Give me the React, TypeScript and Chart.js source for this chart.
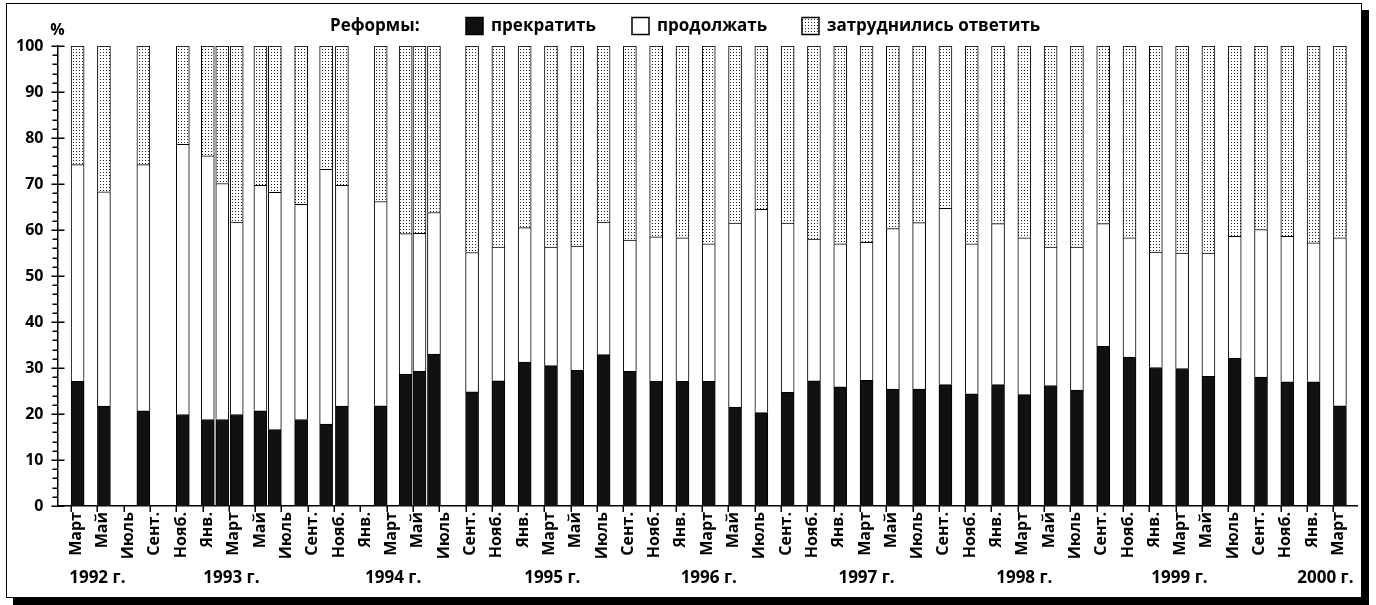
import React, { useEffect, useRef } from 'react';
import { Chart, registerables } from 'chart.js';

Chart.register(...registerables);

// Month tick labels (every second month, March 1992 .. March 2000)
const monthLabels = [
  'Март', 'Май', 'Июль', 'Сент.', 'Нояб.',
  'Янв.', 'Март', 'Май', 'Июль', 'Сент.', 'Нояб.',
  'Янв.', 'Март', 'Май', 'Июль', 'Сент.', 'Нояб.',
  'Янв.', 'Март', 'Май', 'Июль', 'Сент.', 'Нояб.',
  'Янв.', 'Март', 'Май', 'Июль', 'Сент.', 'Нояб.',
  'Янв.', 'Март', 'Май', 'Июль', 'Сент.', 'Нояб.',
  'Янв.', 'Март', 'Май', 'Июль', 'Сент.', 'Нояб.',
  'Янв.', 'Март', 'Май', 'Июль', 'Сент.', 'Нояб.',
  'Янв.', 'Март',
];
// months counted from January 1992 = 0
const tickMonths = monthLabels.map((_, i) => 2 + 2 * i);

const yearLabels = ['1992 г.', '1993 г.', '1994 г.', '1995 г.', '1996 г.', '1997 г.', '1998 г.', '1999 г.', '2000 г.'];
const yearLabelMonths = [4.0, 14.2, 26.5, 38.6, 50.5, 62.5, 74.5, 86.3, 97.4];

// survey month (start of the bar) for each bar
const surveyMonths = [
  2, 4, 7, 10,
  11.9, 13, 14.1, 15.9, 17, 19, 20.9, 22.1,
  25.05, 26.95, 28, 29.1, 32, 34,
  36, 38, 40, 42, 44, 46,
  48, 50, 52, 54, 56, 58,
  60, 62, 64, 66, 68, 70,
  72, 74, 76, 78, 80, 82,
  84, 86, 88, 90, 92, 94,
  96, 98,
];

const stopValues = [
  27.1, 21.7, 20.7, 19.9,
  18.8, 18.8, 19.9, 20.7, 16.6, 18.8, 17.8, 21.7,
  21.8, 28.6, 29.3, 33.0, 24.8, 27.2,
  31.3, 30.5, 29.5, 32.9, 29.3, 27.1,
  27.1, 27.1, 21.5, 20.3, 24.7, 27.2,
  25.9, 27.3, 25.4, 25.4, 26.4, 24.4,
  26.4, 24.2, 26.2, 25.2, 34.7, 32.4,
  30.1, 29.9, 28.2, 32.1, 28.0, 27.0,
  27.0, 21.8,
];

const continueValues = [
  47.1, 46.6, 53.5, 58.7,
  57.3, 51.3, 41.8, 49.0, 51.6, 46.8, 55.4, 48.0,
  44.4, 30.6, 30.0, 30.8, 30.3, 29.1,
  29.2, 25.8, 27.0, 28.8, 28.5, 31.4,
  31.2, 29.9, 40.0, 44.2, 36.8, 30.8,
  31.1, 30.0, 34.9, 36.2, 38.3, 32.6,
  35.0, 34.1, 30.1, 31.1, 26.7, 25.9,
  25.1, 25.1, 26.8, 26.5, 32.1, 31.6,
  30.2, 36.5,
];

const unsureValues = [
  25.8, 31.7, 25.8, 21.4,
  23.9, 29.9, 38.3, 30.3, 31.8, 34.4, 26.8, 30.3,
  33.8, 40.8, 40.7, 36.2, 44.9, 43.7,
  39.5, 43.7, 43.5, 38.3, 42.2, 41.5,
  41.7, 43.0, 38.5, 35.5, 38.5, 42.0,
  43.0, 42.7, 39.7, 38.4, 35.3, 43.0,
  38.6, 41.7, 43.7, 43.7, 38.6, 41.7,
  44.8, 45.0, 45.0, 41.4, 39.9, 41.4,
  42.8, 41.7,
];

const seriesNames = ['прекратить', 'продолжать', 'затруднились ответить'];
const legendTitle = 'Реформы:';
const yUnit = '%';

const FONT = '"Open Sans", "DejaVu Sans", sans-serif';

function makeDots(): CanvasPattern | string {
  const tile = document.createElement('canvas');
  tile.width = 3;
  tile.height = 3;
  const c = tile.getContext('2d');
  if (!c) return '#ddd';
  c.fillStyle = '#ffffff';
  c.fillRect(0, 0, 3, 3);
  c.fillStyle = '#222222';
  c.fillRect(1, 1, 1, 1);
  const p = c.createPattern(tile, 'repeat');
  return p || '#ddd';
}

export default function App() {
  const ref = useRef<HTMLCanvasElement | null>(null);

  useEffect(() => {
    const canvas = ref.current;
    if (!canvas) return;
    const dots = makeDots();
    const fills = ['#111111', '#ffffff', dots];

    const toPoints = (vals: number[]) => vals.map((v, i) => ({ x: surveyMonths[i] + 0.5, y: v }));

    const decor = {
      id: 'decor',
      afterDraw(chart: any) {
        const { ctx, chartArea } = chart;
        const xs = chart.scales.x;
        const ys = chart.scales.y;
        const ax = chartArea.left;
        const bottom = chartArea.bottom;
        ctx.save();
        ctx.strokeStyle = '#000';
        ctx.lineWidth = 1.5;
        ctx.beginPath();
        for (let v = 0; v <= 100; v += 2) {
          const py = Math.round(ys.getPixelForValue(v)) + 0.25;
          const major = v % 10 === 0;
          ctx.moveTo(ax - (major ? 6 : 5), py);
          ctx.lineTo(ax + (major ? 7 : 0), py);
        }
        tickMonths.forEach((m) => {
          const px = Math.round(xs.getPixelForValue(m)) + 0.25;
          ctx.moveTo(px, bottom);
          ctx.lineTo(px, bottom + 6);
        });
        ctx.stroke();

        ctx.fillStyle = '#000';
        ctx.textBaseline = 'middle';
        ctx.textAlign = 'center';
        ctx.font = `bold 17px ${FONT}`;
        yearLabels.forEach((t, i) => {
          ctx.fillText(t, xs.getPixelForValue(yearLabelMonths[i]), 578);
        });

        ctx.font = `bold 16px ${FONT}`;
        ctx.fillText(yUnit, ax, 30);

        // legend
        ctx.font = `bold 17px ${FONT}`;
        ctx.textAlign = 'left';
        ctx.fillText(legendTitle, 330, 26);
        const boxX = [466, 632, 802];
        chart.data.datasets.forEach((ds: any, i: number) => {
          const bx = boxX[i];
          ctx.fillStyle = ds.backgroundColor;
          ctx.fillRect(bx, 17.5, 17, 17);
          ctx.lineWidth = 1.5;
          ctx.strokeStyle = '#000';
          ctx.strokeRect(bx, 17.5, 17, 17);
          ctx.fillStyle = '#000';
          ctx.fillText(ds.label, bx + 25, 26);
        });
        ctx.restore();
      },
    };

    const chart = new Chart(canvas, {
      type: 'bar',
      data: {
        datasets: [
          { label: seriesNames[0], data: toPoints(stopValues), backgroundColor: fills[0] as any },
          { label: seriesNames[1], data: toPoints(continueValues), backgroundColor: fills[1] as any },
          { label: seriesNames[2], data: toPoints(unsureValues), backgroundColor: fills[2] as any },
        ].map((d) => ({
          ...d,
          borderColor: '#000',
          borderWidth: 1,
          barThickness: 13,
        })),
      },
      options: {
        responsive: false,
        animation: false,
        events: [],
        layout: { padding: { top: 46, right: 19, bottom: 0, left: 0 } },
        plugins: {
          legend: { display: false },
          title: { display: false },
          tooltip: { enabled: false },
        },
        scales: {
          x: {
            type: 'linear',
            stacked: true,
            offset: false,
            min: 0.97,
            max: 99.8,
            grid: { display: false, drawTicks: false },
            border: { display: true, color: '#000', width: 1.5 },
            afterFit: (s: any) => { s.height = 99; },
            afterBuildTicks: (s: any) => { s.ticks = tickMonths.map((v) => ({ value: v })); },
            ticks: {
              autoSkip: false,
              minRotation: 90,
              maxRotation: 90,
              padding: 6,
              labelOffset: 5,
              color: '#000',
              font: { family: FONT, size: 16, weight: 'bold' as any },
              callback: (_v: any, i: number) => monthLabels[i],
            },
          },
          y: {
            stacked: true,
            min: 0,
            max: 100,
            grid: { display: false, drawTicks: false },
            border: { display: true, color: '#000', width: 1.5 },
            afterFit: (s: any) => { s.width = 57.5; },
            ticks: {
              stepSize: 10,
              padding: 14,
              color: '#000',
              font: { family: FONT, size: 16, weight: 'bold' as any },
            },
          },
        },
      },
      plugins: [decor],
    });

    return () => chart.destroy();
  }, []);

  return (
    <div style={{ position: 'fixed', left: 0, top: 0, width: 1376, height: 605, background: '#fff', overflow: 'hidden' }}>
      <div
        style={{
          position: 'absolute',
          left: 6,
          top: 3,
          width: 1354,
          height: 593,
          border: '1.5px solid #000',
          boxShadow: '7px 7px 0 0 #000',
          background: '#fff',
        }}
      />
      <canvas ref={ref} width={1376} height={605} style={{ position: 'absolute', left: 0, top: 0, width: 1376, height: 605 }} />
    </div>
  );
}
